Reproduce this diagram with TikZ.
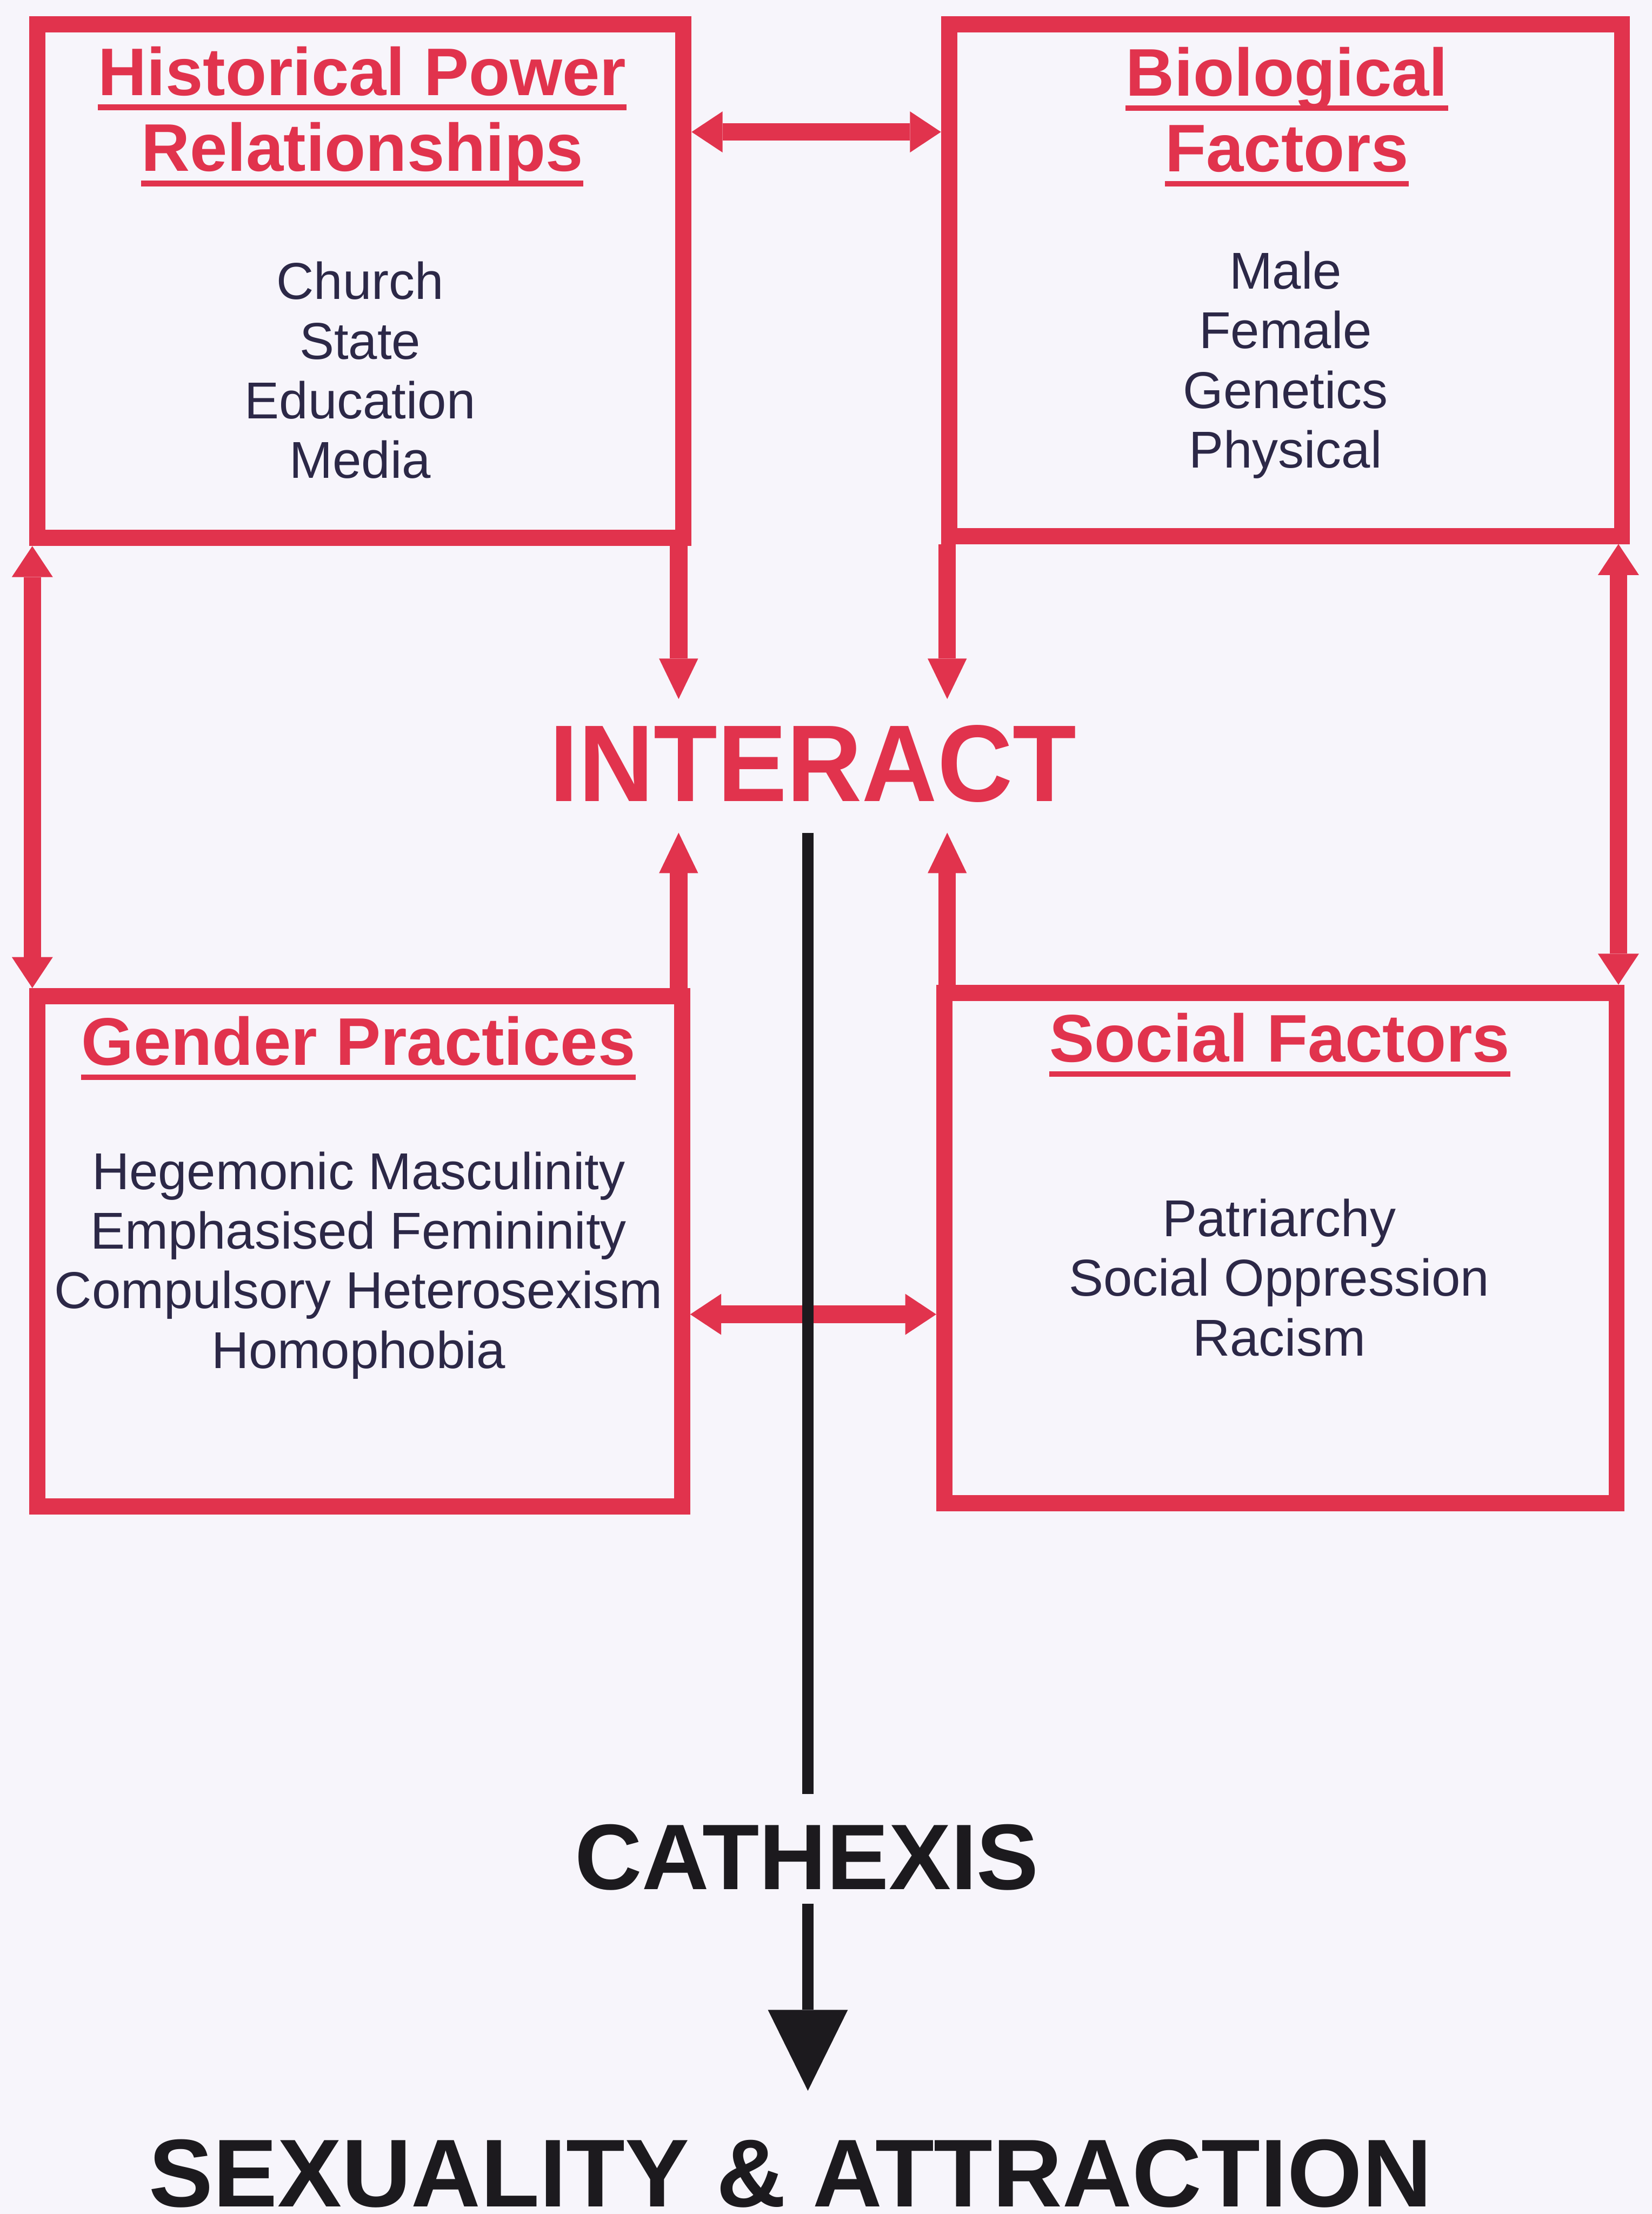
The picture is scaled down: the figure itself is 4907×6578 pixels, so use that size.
\documentclass[tikz,border=0pt]{standalone}
\usepackage{fontspec}
\setmainfont{Liberation Sans}
\usepackage{graphicx}
\usetikzlibrary{arrows.meta,calc}

\definecolor{boxred}{HTML}{E1334D}
\definecolor{inkblue}{HTML}{2C2847}
\definecolor{inkblack}{HTML}{1C1A1E}
\definecolor{paper}{HTML}{F7F5FB}

\tikzset{
  redhead/.tip={Triangle[width=1.22cm,length=0.92cm,line width=0pt]},
  inhead/.tip={Triangle[width=1.16cm,length=1.2cm,line width=0pt]},
  blackhead/.tip={Triangle[width=2.37cm,length=2.4cm,line width=0pt]},
}

\begin{document}
\begin{tikzpicture}[x=0.01cm,y=-0.01cm,
  panel/.style={draw=boxred, line width=13.66pt, inner sep=0pt, rectangle},
  heading/.style={text=boxred, inner sep=0pt, anchor=base,
    font=\fontsize{56.9pt}{65pt}\selectfont\bfseries},
  % multi-line lists: the base anchor sits on the last line
  items/.style={text=inkblue, inner sep=0pt, anchor=base, align=center,
    font=\fontsize{43.8pt}{50.4pt}\selectfont},
  uline/.style={draw=boxred, line width=4.8pt},
  redlink/.style={draw=boxred, fill=boxred, line width=14.8pt},
  spineline/.style={draw=inkblack, fill=inkblack, line width=9.4pt},
  bigword/.style={inner sep=0pt, anchor=base, font=\bfseries},
]
\useasboundingbox (0,0) rectangle (4907,6578);
\fill[paper] (0,0) rectangle (4907,6578);

% the four panels
\node[panel, minimum width=19.18cm, minimum height=15.26cm] (hpr) at (1071,835) {};
\node[panel, minimum width=19.98cm, minimum height=15.20cm] (bio) at (3819,832) {};
\node[panel, minimum width=19.14cm, minimum height=15.15cm] (gp)  at (1069,3717.5) {};
\node[panel, minimum width=19.96cm, minimum height=15.15cm] (sf)  at (3804,3707.5) {};

% panel headings
\node[heading] (hprA) at (1076,283) {Historical Power};
\node[heading] (hprB) at (1076,509) {Relationships};
\node[heading] (bioA) at (3823,285) {Biological};
\node[heading] (bioB) at (3823,510) {Factors};
\node[heading] (gpA)  at (1065,3165) {Gender Practices};
\node[heading] (sfA)  at (3802,3155) {Social Factors};
\foreach \h in {hprA,hprB,bioA,bioB,gpA,sfA}
  \draw[uline] ([yshift=-0.36cm]\h.base west) -- ([yshift=-0.36cm]\h.base east);

% panel contents
\node[items] (hprL) at (1070,1421) {Church\\State\\Education\\Media};
\node[items] (bioL) at (3819,1390) {Male\\Female\\Genetics\\Physical};
\node[items] (gpL)  at (1065,4065) {Hegemonic Masculinity\\Emphasised Femininity\\Compulsory Heterosexism\\Homophobia};
\node[items] (sfL)  at (3800,4028) {Patriarchy\\Social Oppression\\Racism};

% central words
\node[bigword, text=boxred, font=\fontsize{92.2pt}{100pt}\selectfont\bfseries] (ia) at (2415,2380) {\scalebox{0.955}[1]{INTERACT}};
\node[bigword, text=inkblack, font=\fontsize{78.7pt}{90pt}\selectfont\bfseries] (ca) at (2397,5614) {CATHEXIS};
\node[bigword, text=inkblack, font=\fontsize{81.4pt}{92pt}\selectfont\bfseries] (sx) at (2348,6556) {SEXUALITY \& ATTRACTION};

% reference lines for connectors
\coordinate (iaTop) at ([yshift=3.03cm]ia.base);
\coordinate (iaBot) at ([yshift=-0.94cm]ia.base);
\coordinate (caTop) at ([yshift=2.83cm]ca.base);
\coordinate (caBot) at ([yshift=-0.42cm]ca.base);
\coordinate (sxTop) at ([yshift=3.44cm]sx.base);
\coordinate (colL) at (2016,0);
\coordinate (colR) at (2814,0);
\coordinate (spine) at (2400,0);
\coordinate (edgeL) at (96,0);
\coordinate (edgeR) at (4808,0);
\coordinate (rowT) at (0,392);
\coordinate (rowB) at (0,3905);

% two-way links between panels
\draw[redlink, {redhead}-{redhead}] (hpr.east |- rowT) -- (bio.west |- rowT);
\draw[redlink, {redhead}-{redhead}] (gp.east |- rowB) -- (sf.west |- rowB);
\draw[redlink, {redhead}-{redhead}] (edgeL |- hpr.south) -- (edgeL |- gp.north);
\draw[redlink, {redhead}-{redhead}] (edgeR |- bio.south) -- (edgeR |- sf.north);

% links into INTERACT
\draw[redlink, -{inhead}] (colL |- hpr.south) -- (colL |- iaTop);
\draw[redlink, -{inhead}] (colR |- bio.south) -- (colR |- iaTop);
\draw[redlink, -{inhead}] (colL |- gp.north) -- (colL |- iaBot);
\draw[redlink, -{inhead}] (colR |- sf.north) -- (colR |- iaBot);

% the spine down to the outcome
\draw[spineline] (spine |- iaBot) -- (spine |- caTop);
\draw[spineline, -{blackhead}] (spine |- caBot) -- (spine |- sxTop);
\end{tikzpicture}
\end{document}
